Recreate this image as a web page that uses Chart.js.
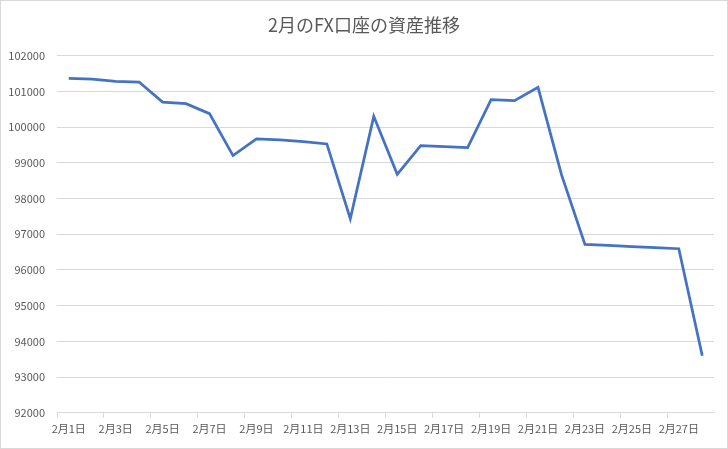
<!DOCTYPE html>
<html>
<head>
<meta charset="utf-8">
<script src="https://cdn.jsdelivr.net/npm/chart.js@4"></script>
<style>
  html, body { margin: 0; padding: 0; background: #fff; }
  #wrap { width: 726px; height: 447px; border: 1px solid #d9d9d9; position: relative; }
</style>
</head>
<body>
<div id="wrap"><canvas id="chart"></canvas></div>
<script>
  const days = [
    "2月1日", "2月2日", "2月3日", "2月4日", "2月5日", "2月6日", "2月7日",
    "2月8日", "2月9日", "2月10日", "2月11日", "2月12日", "2月13日", "2月14日",
    "2月15日", "2月16日", "2月17日", "2月18日", "2月19日", "2月20日", "2月21日",
    "2月22日", "2月23日", "2月24日", "2月25日", "2月26日", "2月27日", "2月28日"
  ];
  const balance = [
    101360, 101340, 101280, 101260, 100700, 100655, 100375,
    99200, 99667, 99640, 99590, 99527, 97434, 100300,
    98675, 99479, 99455, 99423, 100768, 100740, 101112,
    98667, 96715, 96685, 96655, 96625, 96594, 93597
  ];
  const yMin = 92000;
  const yMax = 102000;
  const yStep = 1000;

  const textColor = "#595959";
  const gridColor = "#d9d9d9";
  const fontFamily = "'Noto Sans CJK JP', 'Noto Sans', sans-serif";

  new Chart(document.getElementById("chart").getContext("2d"), {
    type: "line",
    data: {
      labels: days,
      datasets: [
        {
          label: "資産",
          data: balance,
          borderColor: "#4472c4",
          borderWidth: 2.75,
          pointRadius: 0,
          tension: 0,
          fill: false
        }
      ]
    },
    options: {
      responsive: true,
      maintainAspectRatio: false,
      animation: false,
      layout: { padding: { left: 0, right: 0, top: 0, bottom: 9 } },
      plugins: {
        legend: { display: false },
        tooltip: { enabled: false },
        title: {
          display: true,
          text: "2月のFX口座の資産推移",
          color: textColor,
          font: { family: fontFamily, size: 18, weight: "normal" },
          padding: { top: 13, bottom: 20 }
        }
      },
      scales: {
        x: {
          offset: true,
          border: { display: true, color: gridColor },
          grid: {
            offset: true,
            drawOnChartArea: false,
            drawTicks: true,
            tickLength: 5,
            color: (ctx) => (ctx.index % 2 === 0 ? gridColor : "rgba(0,0,0,0)")
          },
          ticks: {
            autoSkip: false,
            maxRotation: 0,
            minRotation: 0,
            padding: 4,
            color: textColor,
            font: { family: fontFamily, size: 11 },
            callback: function (value, index) {
              return index % 2 === 0 ? this.getLabelForValue(value) : "";
            }
          }
        },
        y: {
          min: yMin,
          max: yMax,
          border: { display: false },
          grid: { color: gridColor, drawTicks: false },
          ticks: {
            stepSize: yStep,
            padding: 12,
            color: textColor,
            font: { family: fontFamily, size: 11 },
            callback: (v) => String(v)
          },
          afterFit: (scale) => { scale.width = 56; }
        },
        // empty right-hand axis, only keeps the right margin so the title stays centred
        yRight: {
          position: "right",
          min: yMin,
          max: yMax,
          border: { display: false },
          grid: { display: false },
          ticks: { display: false },
          afterFit: (scale) => { scale.width = 13; }
        }
      }
    }
  });
</script>
</body>
</html>
